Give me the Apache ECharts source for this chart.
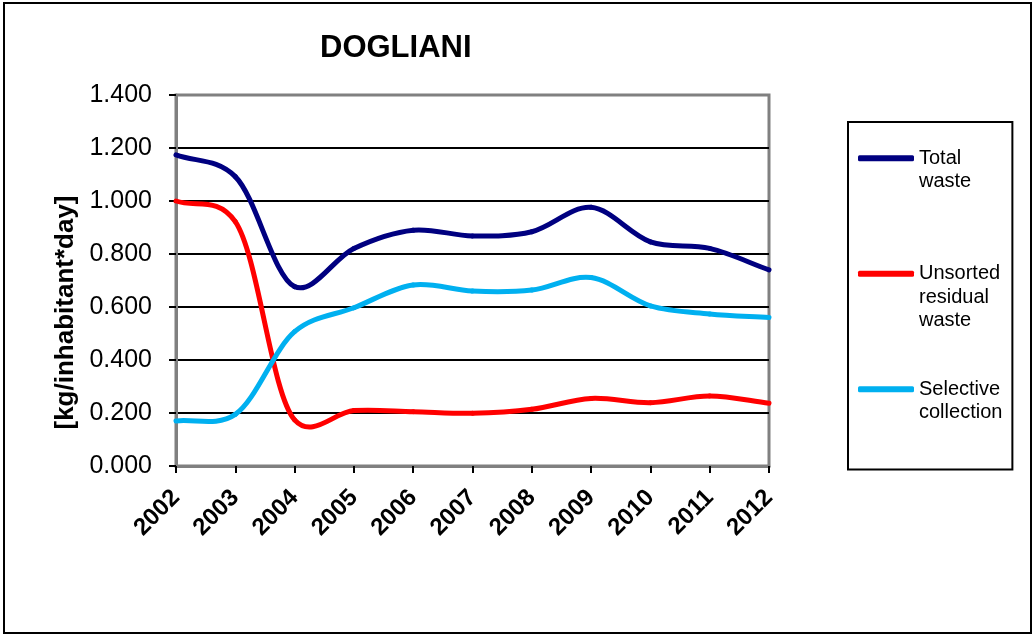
<!DOCTYPE html>
<html>
<head>
<meta charset="utf-8">
<script src="https://cdn.jsdelivr.net/npm/echarts@6/dist/echarts.min.js"></script>
<style>
html,body{margin:0;padding:0;background:#fff;}
#c{width:1034px;height:636px;}
</style>
</head>
<body>
<div id="c"></div>
<script>
var years = ['2002','2003','2004','2005','2006','2007','2008','2009','2010','2011','2012'];
var totalWaste = [1.174, 1.092, 0.677, 0.821, 0.890, 0.868, 0.884, 0.976, 0.846, 0.821, 0.740];
var unsortedResidual = [1.000, 0.922, 0.174, 0.209, 0.205, 0.199, 0.214, 0.255, 0.239, 0.264, 0.237];
var selectiveCollection = [0.170, 0.195, 0.507, 0.597, 0.683, 0.660, 0.664, 0.711, 0.604, 0.574, 0.560];
var yTickLabels = ['0.000','0.200','0.400','0.600','0.800','1.000','1.200','1.400'];
var seriesNames = ['Total waste','Unsorted residual waste','Selective collection'];
var legendLabels = {
  'Total waste': '\nTotal\nwaste',
  'Unsorted residual waste': '\n\nUnsorted\nresidual\nwaste',
  'Selective collection': '\nSelective\ncollection'
};
var colors = ['#000080','#FF0000','#00B0F0'];
var seriesValues = [totalWaste, unsortedResidual, selectiveCollection];

var ALPHA = 0.22; // Catmull-Rom parameterisation (between uniform and centripetal)

// Smoothed line: every point placed through the chart's own axes via api.coord.
function makeRenderItem(values, color) {
  return function (params, api) {
    var i = params.dataIndex;
    var n = values.length;
    if (i >= n - 1) return null;
    function P(k) {
      if (k < 0) { var a = api.coord([0, values[0]]), b = api.coord([1, values[1]]); return [2 * a[0] - b[0], 2 * a[1] - b[1]]; }
      if (k > n - 1) { var c = api.coord([n - 1, values[n - 1]]), d = api.coord([n - 2, values[n - 2]]); return [2 * c[0] - d[0], 2 * c[1] - d[1]]; }
      return api.coord([k, values[k]]);
    }
    function T(a, b) { var dx = b[0] - a[0], dy = b[1] - a[1]; return Math.max(1e-6, Math.pow(Math.sqrt(dx * dx + dy * dy), ALPHA)); }
    var p0 = P(i - 1), p1 = P(i), p2 = P(i + 1), p3 = P(i + 2);
    var t01 = T(p0, p1), t12 = T(p1, p2), t23 = T(p2, p3);
    var m1 = [0, 1].map(function (j) {
      return (p1[j] - p0[j]) / t01 - (p2[j] - p0[j]) / (t01 + t12) + (p2[j] - p1[j]) / t12;
    });
    var m2 = [0, 1].map(function (j) {
      return (p2[j] - p1[j]) / t12 - (p3[j] - p1[j]) / (t12 + t23) + (p3[j] - p2[j]) / t23;
    });
    return {
      type: 'bezierCurve',
      shape: {
        x1: p1[0], y1: p1[1], x2: p2[0], y2: p2[1],
        cpx1: p1[0] + m1[0] * t12 / 3, cpy1: p1[1] + m1[1] * t12 / 3,
        cpx2: p2[0] - m2[0] * t12 / 3, cpy2: p2[1] - m2[1] * t12 / 3
      },
      style: {stroke: color, lineWidth: 5, fill: null, lineCap: 'round'}
    };
  };
}

var chart = echarts.init(document.getElementById('c'), null, {renderer:'canvas'});
var font = 'Liberation Sans, Arial, sans-serif';
var series = seriesNames.map(function (name, s) {
  return {
    name: name, type: 'custom',
    data: seriesValues[s].map(function (v, k) { return [k, v]; }),
    encode: {x: 0, y: 1},
    renderItem: makeRenderItem(seriesValues[s], colors[s]),
    itemStyle: {color: colors[s]},
    z: 3 + s
  };
});

chart.setOption({
  animation: false,
  backgroundColor: '#fff',
  textStyle: {fontFamily: font},
  title: {
    text: 'DOGLIANI', left: 315, top: 28,
    textStyle: {fontSize: 31, fontWeight: 'bold', color: '#000', fontFamily: font}
  },
  graphic: [{
    type: 'rect', shape: {x: 4, y: 3, width: 1027, height: 630},
    style: {fill: null, stroke: '#000', lineWidth: 2}, z: -1, silent: true
  }],
  legend: {
    orient: 'vertical', left: 848, top: 122,
    padding: [1, 10, 45, 10],
    itemGap: 21.5,
    itemWidth: 56, itemHeight: 6, icon: 'roundRect',
    borderColor: '#000', borderWidth: 2,
    data: seriesNames.map(function (n, s) { return {name: n, itemStyle: {color: colors[s]}}; }),
    formatter: function (n) { return legendLabels[n]; },
    textStyle: {fontSize: 20, lineHeight: 23.5, color: '#000', fontFamily: font}
  },
  grid: {
    left: 176, right: 265, top: 95, bottom: 170,
    show: true, borderColor: '#808080', borderWidth: 3, backgroundColor: 'transparent'
  },
  xAxis: {
    type: 'category', data: years, boundaryGap: false,
    axisLine: {lineStyle: {color: '#808080', width: 3}},
    axisTick: {show: true, length: 7, lineStyle: {color: '#000', width: 2}, alignWithLabel: true},
    axisLabel: {rotate: 45, margin: 28, fontSize: 24, fontWeight: 'bold', color: '#000', fontFamily: font, interval: 0},
    splitLine: {show: false}
  },
  yAxis: {
    type: 'value', min: 0, max: 1.4, interval: 0.2,
    name: '[kg/inhabitant*day]', nameLocation: 'middle', nameGap: 90, nameRotate: 90,
    nameTextStyle: {fontSize: 26, fontWeight: 'bold', color: '#000', fontFamily: font, padding: [0, 64, 0, 0]},
    axisLine: {show: true, lineStyle: {color: '#808080', width: 3}},
    axisTick: {show: true, length: 7, lineStyle: {color: '#000', width: 2}},
    axisLabel: {
      margin: 24, fontSize: 25, color: '#000', fontFamily: font,
      formatter: function (v) { return yTickLabels[Math.round(v / 0.2)]; }
    },
    splitLine: {show: true, lineStyle: {color: ['#808080','#000','#000','#000','#000','#000','#000','#808080'], width: 2}}
  },
  series: series
});
</script>
</body>
</html>
